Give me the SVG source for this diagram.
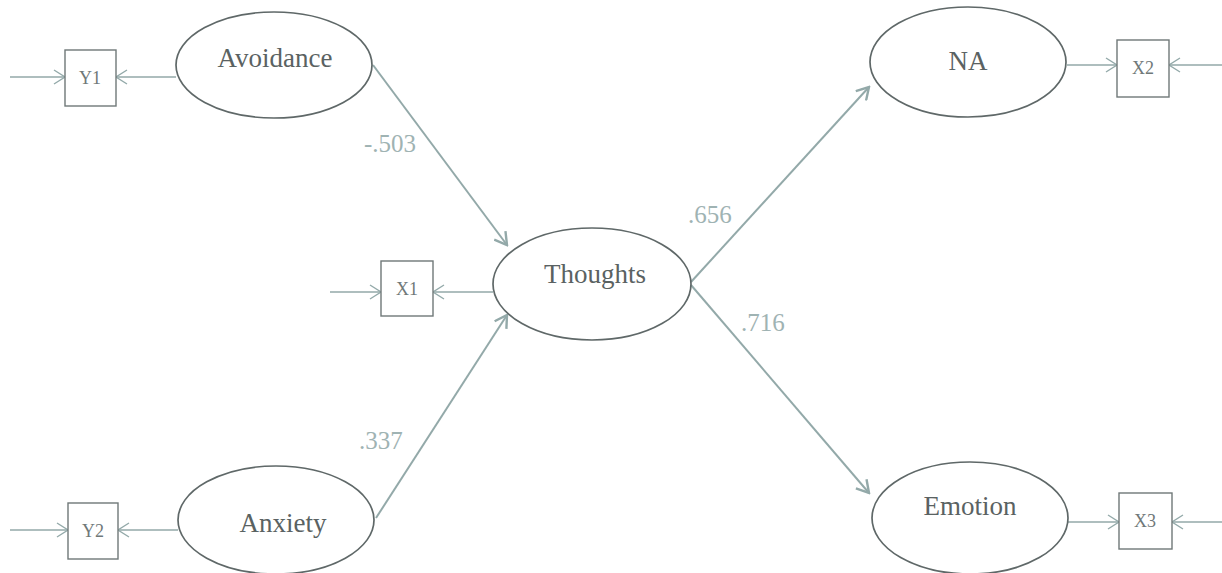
<svg xmlns="http://www.w3.org/2000/svg" width="1222" height="573" viewBox="0 0 1222 573">
<style>
.lat{fill:#fff;stroke:#5f6868;stroke-width:1.7}
.obs{fill:#fff;stroke:#6f7878;stroke-width:1.4}
.lt{font-family:"Liberation Serif","Times New Roman",serif;font-size:27px;fill:#5a6262;text-anchor:middle}
.ot{font-family:"Liberation Serif","Times New Roman",serif;font-size:18px;fill:#6f7878;text-anchor:middle}
.coef{font-family:"Liberation Serif","Times New Roman",serif;font-size:25px;fill:#9fb3b3}
.c{stroke:#93a9a9;stroke-width:2;fill:none}
.e{stroke:#93a9a9;stroke-width:1.5;fill:none}
</style>
<defs>
<marker id="ah" markerWidth="16" markerHeight="16" refX="14" refY="8" orient="auto" markerUnits="userSpaceOnUse">
<path d="M2,1 L14,8 L2,15" fill="none" stroke="#93a9a9" stroke-width="2.4"/>
</marker>
<marker id="as" markerWidth="16" markerHeight="16" refX="14" refY="8" orient="auto" markerUnits="userSpaceOnUse">
<path d="M3,1 L14,8 L3,15" fill="none" stroke="#93a9a9" stroke-width="1.4"/>
</marker>
</defs>
<g id="connectors">
<line class="c" x1="373" y1="65" x2="507" y2="245" marker-end="url(#ah)"/>
<line class="c" x1="376" y1="518" x2="507" y2="315" marker-end="url(#ah)"/>
<line class="c" x1="691" y1="282" x2="869" y2="87" marker-end="url(#ah)"/>
<line class="c" x1="691" y1="285" x2="869" y2="493" marker-end="url(#ah)"/>
<line class="e" x1="10" y1="77" x2="65" y2="77" marker-end="url(#as)"/>
<line class="e" x1="176" y1="77" x2="116" y2="77" marker-end="url(#as)"/>
<line class="e" x1="10" y1="530" x2="68" y2="530" marker-end="url(#as)"/>
<line class="e" x1="178" y1="530" x2="118" y2="530" marker-end="url(#as)"/>
<line class="e" x1="330" y1="292" x2="381" y2="292" marker-end="url(#as)"/>
<line class="e" x1="493" y1="292" x2="433" y2="292" marker-end="url(#as)"/>
<line class="e" x1="1067" y1="65" x2="1117" y2="65" marker-end="url(#as)"/>
<line class="e" x1="1222" y1="65" x2="1169" y2="65" marker-end="url(#as)"/>
<line class="e" x1="1068" y1="522" x2="1119" y2="522" marker-end="url(#as)"/>
<line class="e" x1="1222" y1="522" x2="1172" y2="522" marker-end="url(#as)"/>
</g>
<g id="labels">
<text class="coef" x="364" y="152">-.503</text>
<text class="coef" x="688" y="223">.656</text>
<text class="coef" x="741" y="331">.716</text>
<text class="coef" x="359" y="449">.337</text>
</g>
<g id="avoidance"><ellipse class="lat" cx="274" cy="65" rx="98" ry="53"/><text class="lt" x="275" y="67">Avoidance</text></g>
<g id="anxiety"><ellipse class="lat" cx="276" cy="520" rx="98" ry="54"/><text class="lt" x="283" y="532">Anxiety</text></g>
<g id="thoughts"><ellipse class="lat" cx="592" cy="284" rx="99" ry="56"/><text class="lt" x="595" y="283">Thoughts</text></g>
<g id="na"><ellipse class="lat" cx="968" cy="62" rx="98" ry="55"/><text class="lt" x="968" y="70">NA</text></g>
<g id="emotion"><ellipse class="lat" cx="970" cy="518" rx="98" ry="56"/><text class="lt" x="970" y="515">Emotion</text></g>
<g id="y1"><rect class="obs" x="65" y="50" width="51" height="56"/><text class="ot" x="90" y="84">Y1</text></g>
<g id="y2"><rect class="obs" x="68" y="503" width="50" height="56"/><text class="ot" x="93" y="537">Y2</text></g>
<g id="x1"><rect class="obs" x="381" y="261" width="52" height="55"/><text class="ot" x="407" y="295">X1</text></g>
<g id="x2"><rect class="obs" x="1117" y="40" width="52" height="57"/><text class="ot" x="1143" y="74">X2</text></g>
<g id="x3"><rect class="obs" x="1119" y="493" width="53" height="56"/><text class="ot" x="1145" y="527">X3</text></g>
</svg>
